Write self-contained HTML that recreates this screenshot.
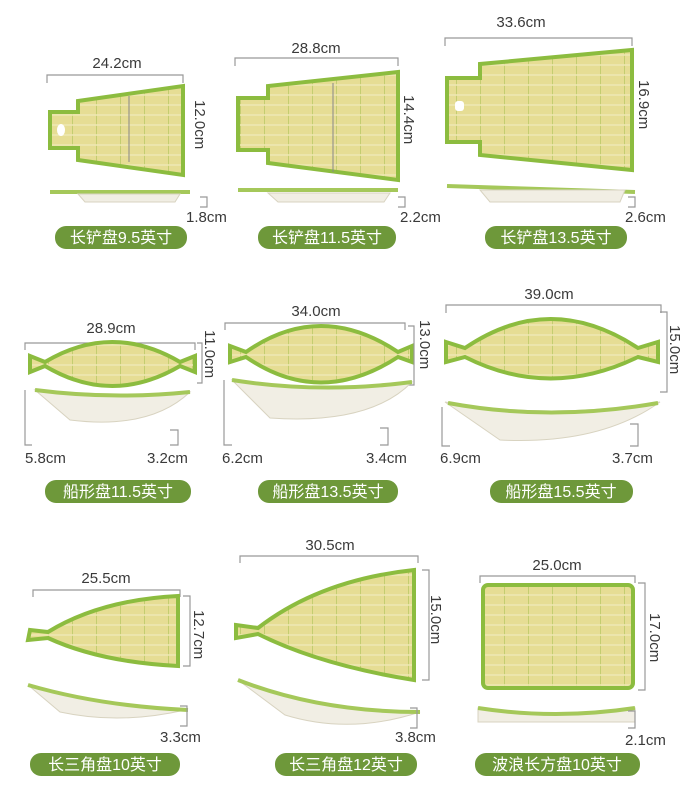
<!DOCTYPE html>
<html><head><meta charset="utf-8"><style>
html,body{margin:0;padding:0;background:#fff;}
svg{display:block}
.d{font-family:"Liberation Sans","Noto Sans CJK SC",sans-serif;font-size:15px;fill:#3a3a3a}
.p{font-family:"Liberation Sans","Noto Sans CJK SC",sans-serif;font-size:16px;fill:#fff}
.ln{stroke:#999;stroke-width:1.2;fill:none}
.pl{stroke:#8cbc3f;stroke-width:4}
.sd{fill:#f1eee4;stroke:#d8d3c0;stroke-width:1}
.st{fill:none;stroke:#a5c85a;stroke-width:4}
.pill{fill:#6e983a}
</style></head><body>
<svg width="687" height="800" viewBox="0 0 687 800">
<defs>
<pattern id="w" width="24" height="10" patternUnits="userSpaceOnUse">
<rect width="24" height="10" fill="#e6dd94"/>
<line x1="0" y1="0" x2="0" y2="10" stroke="#c3cd70" stroke-width="2"/>
<line x1="0" y1="5" x2="24" y2="5" stroke="#efe8b4" stroke-width="1.5"/>
</pattern>
</defs>
<style>.pl{fill:url(#w)}</style>

<!-- Row 1 -->
<text class="d" x="117" y="68" text-anchor="middle">24.2cm</text>
<path class="ln" d="M47,83 V75 H183 V83"/>
<path class="pl" d="M50,112 H78 V101 L183,86 V175 L78,160 V148 H50 Z"/>
<ellipse cx="61" cy="130" rx="4" ry="6" fill="#fff"/>
<line x1="129" y1="96" x2="129" y2="162" stroke="#888"/>
<text class="d" transform="translate(195,100) rotate(90)">12.0cm</text>
<path class="st" d="M50,192 L190,192"/><path class="sd" d="M78,194 H180 L175,202 H85 Z"/>
<path class="ln" d="M200,197 H207 V207 H200"/>
<text class="d" x="186" y="222">1.8cm</text>
<rect class="pill" x="55" y="226" width="132" height="23" rx="11"/>
<text class="p" x="121" y="243" text-anchor="middle">长铲盘9.5英寸</text>

<text class="d" x="316" y="53" text-anchor="middle">28.8cm</text>
<path class="ln" d="M235,66 V58 H398 V66"/>
<path class="pl" d="M238,98 H268 V86 L398,72 V180 L268,163 V150 H238 Z"/>
<line x1="333" y1="83" x2="333" y2="172" stroke="#888"/>
<text class="d" transform="translate(404,95) rotate(90)">14.4cm</text>
<path class="st" d="M238,190 L398,190"/><path class="sd" d="M268,193 H390 L384,202 H278 Z"/>
<path class="ln" d="M398,197 H405 V207 H398"/>
<text class="d" x="400" y="222">2.2cm</text>
<rect class="pill" x="258" y="226" width="138" height="23" rx="11"/>
<text class="p" x="327" y="243" text-anchor="middle">长铲盘11.5英寸</text>

<text class="d" x="521" y="27" text-anchor="middle">33.6cm</text>
<path class="ln" d="M445,46 V38 H632 V46"/>
<path class="pl" d="M447,78 H480 V64 L632,50 V170 L480,155 V142 H447 Z"/>
<rect x="455" y="101" width="9" height="10" rx="3" fill="#fff"/>
<text class="d" transform="translate(639,80) rotate(90)">16.9cm</text>
<path class="st" d="M447,186 L635,192"/><path class="sd" d="M480,190 H625 L620,202 H490 Z"/>
<path class="ln" d="M628,197 H635 V207 H628"/>
<text class="d" x="625" y="222">2.6cm</text>
<rect class="pill" x="485" y="226" width="142" height="23" rx="11"/>
<text class="p" x="556" y="243" text-anchor="middle">长铲盘13.5英寸</text>

<!-- Row 2 -->
<text class="d" x="111" y="333" text-anchor="middle">28.9cm</text>
<path class="ln" d="M25,350 V343 H195 V350"/>
<path class="pl" d="M30,356 L45,362 Q112,322 180,362 L195,356 V372 L180,366 Q112,406 45,366 L30,372 Z"/>
<path class="ln" d="M197,343 H202 V383 H197"/>
<text class="d" transform="translate(205,330) rotate(90)">11.0cm</text>
<path class="sd" d="M35,390 Q112,397 190,392 Q150,430 70,420 Z"/>
<path class="st" d="M35,390 Q112,400 190,392"/>
<path class="ln" d="M25,390 V445 H32"/><path class="ln" d="M170,430 H178 V445 H170"/>
<text class="d" x="25" y="463">5.8cm</text><text class="d" x="147" y="463">3.2cm</text>
<rect class="pill" x="45" y="480" width="146" height="23" rx="11"/>
<text class="p" x="118" y="497" text-anchor="middle">船形盘11.5英寸</text>

<text class="d" x="316" y="316" text-anchor="middle">34.0cm</text>
<path class="ln" d="M225,330 V323 H405 V330"/>
<path class="pl" d="M230,346 L246,352 Q320,300 398,352 L412,346 V362 L398,357 Q320,408 246,357 L230,362 Z"/>
<path class="ln" d="M408,326 H414 V385 H408"/>
<text class="d" transform="translate(420,320) rotate(90)">13.0cm</text>
<path class="sd" d="M232,380 Q320,392 412,382 Q370,425 270,418 Z"/>
<path class="st" d="M232,380 Q320,394 412,382"/>
<path class="ln" d="M224,380 V445 H232"/><path class="ln" d="M380,428 H388 V445 H380"/>
<text class="d" x="222" y="463">6.2cm</text><text class="d" x="366" y="463">3.4cm</text>
<rect class="pill" x="258" y="480" width="140" height="23" rx="11"/>
<text class="p" x="328" y="497" text-anchor="middle">船形盘13.5英寸</text>

<text class="d" x="549" y="299" text-anchor="middle">39.0cm</text>
<path class="ln" d="M446,313 V305 H661 V313"/>
<path class="pl" d="M446,342 L465,348 Q550,290 638,348 L658,342 V362 L638,357 Q550,400 465,357 L446,362 Z"/>
<path class="ln" d="M660,312 H667 V392 H660"/>
<text class="d" transform="translate(670,325) rotate(90)">15.0cm</text>
<path class="sd" d="M445,402 Q550,420 660,402 Q600,445 500,440 Z"/>
<path class="st" d="M448,403 Q550,422 658,403"/>
<path class="ln" d="M442,407 V446 H450"/><path class="ln" d="M630,424 H638 V446 H630"/>
<text class="d" x="440" y="463">6.9cm</text><text class="d" x="612" y="463">3.7cm</text>
<rect class="pill" x="490" y="480" width="143" height="23" rx="11"/>
<text class="p" x="561" y="497" text-anchor="middle">船形盘15.5英寸</text>

<!-- Row 3 -->
<text class="d" x="106" y="583" text-anchor="middle">25.5cm</text>
<path class="ln" d="M33,597 V590 H180 V597"/>
<path class="pl" d="M30,630 L48,632 Q100,600 178,596 V666 Q100,662 48,638 L28,640 Z"/>
<path class="ln" d="M183,596 H190 V666 H183"/>
<text class="d" transform="translate(194,610) rotate(90)">12.7cm</text>
<path class="sd" d="M28,685 Q100,705 185,710 Q120,725 60,712 Z"/>
<path class="st" d="M28,685 Q100,706 188,710"/>
<path class="ln" d="M180,706 H187 V726 H180"/>
<text class="d" x="160" y="742">3.3cm</text>
<rect class="pill" x="30" y="753" width="150" height="23" rx="11"/>
<text class="p" x="105" y="770" text-anchor="middle">长三角盘10英寸</text>

<text class="d" x="330" y="550" text-anchor="middle">30.5cm</text>
<path class="ln" d="M240,563 V556 H418 V563"/>
<path class="pl" d="M236,625 L258,628 Q320,580 414,570 V680 Q320,665 258,634 L236,638 Z"/>
<path class="ln" d="M422,570 H429 V680 H422"/>
<text class="d" transform="translate(431,595) rotate(90)">15.0cm</text>
<path class="sd" d="M238,680 Q320,710 420,712 Q350,735 285,715 Z"/>
<path class="st" d="M238,680 Q320,712 420,712"/>
<path class="ln" d="M410,708 H417 V728 H410"/>
<text class="d" x="395" y="742">3.8cm</text>
<rect class="pill" x="275" y="753" width="142" height="23" rx="11"/>
<text class="p" x="346" y="770" text-anchor="middle">长三角盘12英寸</text>

<text class="d" x="557" y="570" text-anchor="middle">25.0cm</text>
<path class="ln" d="M480,583 V576 H635 V583"/>
<rect class="pl" x="483" y="585" width="150" height="103" rx="5"/>
<path class="ln" d="M638,583 H645 V690 H638"/>
<text class="d" transform="translate(650,613) rotate(90)">17.0cm</text>
<path class="sd" d="M478,708 Q555,720 635,708 V722 H478 Z"/>
<path class="st" d="M478,708 Q555,720 635,708"/>
<path class="ln" d="M628,711 H635 V728 H628"/>
<text class="d" x="625" y="745">2.1cm</text>
<rect class="pill" x="475" y="753" width="165" height="23" rx="11"/>
<text class="p" x="557" y="770" text-anchor="middle">波浪长方盘10英寸</text>
</svg>
</body></html>
